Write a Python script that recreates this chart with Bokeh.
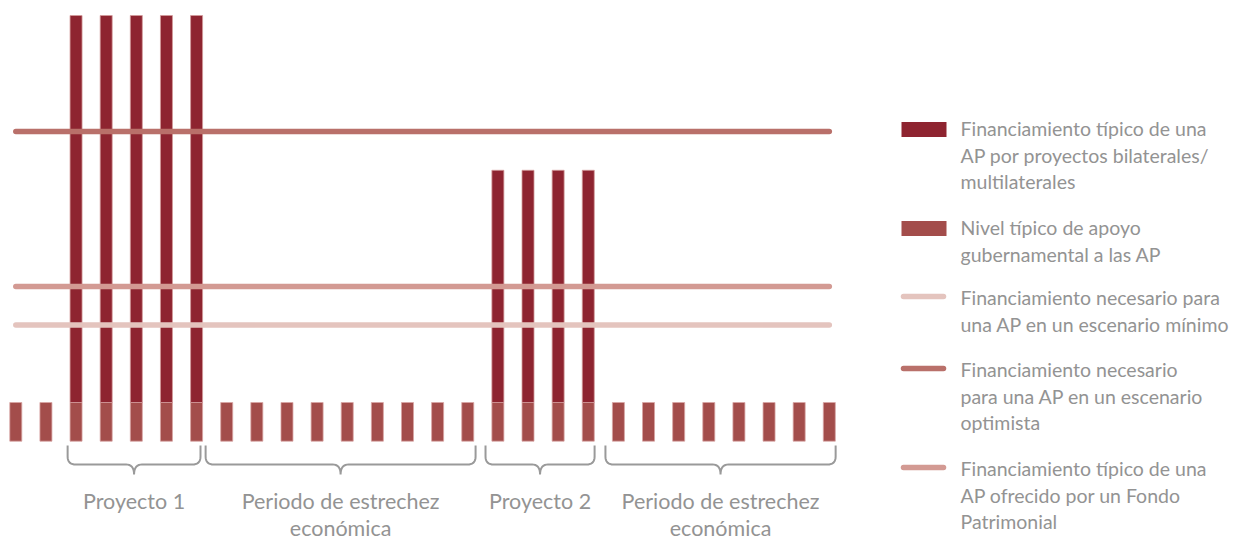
from bokeh.plotting import figure
from bokeh.models import Range1d, ColumnDataSource
from bokeh.core.properties import value
from bokeh.embed import file_html
from bokeh.resources import INLINE
import numpy as np

# ---------------- data ----------------
periods = list(range(28))
gov_support = [1, 1, 1, 1, 1, 1, 1, 1, 1, 1, 1, 1, 1, 1,
               1, 1, 1, 1, 1, 1, 1, 1, 1, 1, 1, 1, 1, 1]
project_funding = [0, 0, 10, 10, 10, 10, 10, 0, 0, 0, 0, 0, 0, 0,
                   0, 0, 6, 6, 6, 6, 0, 0, 0, 0, 0, 0, 0, 0]
escenario_optimista = 8.0
fondo_patrimonial = 4.0
escenario_minimo = 3.0
line_start, line_end = 0, 27

group_labels = ["Proyecto 1", "Periodo de estrechez\neconómica",
                "Proyecto 2", "Periodo de estrechez\neconómica"]
group_start = [1.72, 6.30, 15.59, 19.57]
group_end = [6.13, 15.26, 19.21, 27.21]

legend_labels = [
    "Financiamiento típico de una\nAP por proyectos bilaterales/\nmultilaterales",
    "Nivel típico de apoyo\ngubernamental a las AP",
    "Financiamiento necesario para\nuna AP en un escenario mínimo",
    "Financiamiento necesario\npara una AP en  un escenario\noptimista",
    "Financiamiento típico de una\nAP ofrecido por un Fondo\nPatrimonial",
]

# ---------------- styles ----------------
C_PROJ = "#8E2430"
C_GOV = "#A34D4B"
C_OPT = "#B9706A"
C_FONDO = "#D39A93"
C_MIN = "#E4C4BE"
C_TEXT = "#939393"
C_BRACE = "#9A9A9A"
FONT = "Lato"

W, H = 1240, 540
X0, DX = 15.3, 30.13      # pixel position of period 0, pixel spacing
Y0, DY = 440.7, 38.7      # pixel position of 0, pixels per unit


def px2x(px):
    return (px - X0) / DX


def px2y(py):
    return (Y0 - py) / DY


p = figure(width=W, height=H, output_backend="svg", toolbar_location=None,
           x_range=Range1d(px2x(0), px2x(W)), y_range=Range1d(px2y(H), px2y(0)),
           min_border=0, outline_line_color=None)
p.axis.visible = False
p.grid.visible = False
p.background_fill_color = "white"
p.border_fill_color = "white"

bar_w = 12 / DX

# bottom bars (government support)
src = ColumnDataSource(dict(x=periods, gov=gov_support))
p.vbar(x="x", bottom=0, top="gov", width=bar_w, source=src,
       fill_color=C_GOV, line_color="#D8A5A3", line_width=0.8)

# project funding stacked on top
px_ = [x for x, f in zip(periods, project_funding) if f > 0]
pb = [g for g, f in zip(gov_support, project_funding) if f > 0]
pt = [g + f for g, f in zip(gov_support, project_funding) if f > 0]
p.vbar(x=px_, bottom=pb, top=pt, width=bar_w,
       fill_color=C_PROJ, line_color="#D39A9A", line_width=0.8)

# horizontal reference levels
for lvl, col in [(escenario_optimista, C_OPT), (fondo_patrimonial, C_FONDO),
                 (escenario_minimo, C_MIN)]:
    p.line([line_start, line_end], [lvl, lvl], line_color=col,
           line_width=5.5, line_cap="round")


# braces and group labels
def brace(x0p, x1p, ytop=445.0, yh=464.0, ytip=474.0):
    xm = (x0p + x1p) / 2
    pts = []

    def quad(a, c, b, n=10):
        t = np.linspace(0, 1, n)
        return [((1 - s) ** 2 * a[0] + 2 * (1 - s) * s * c[0] + s ** 2 * b[0],
                 (1 - s) ** 2 * a[1] + 2 * (1 - s) * s * c[1] + s ** 2 * b[1]) for s in t]
    pts += [(x0p, ytop)]
    pts += quad((x0p, yh - 8), (x0p, yh), (x0p + 8, yh))
    pts += [(xm - 8, yh)]
    pts += quad((xm - 8, yh), (xm, yh), (xm, ytip))
    pts += quad((xm, ytip), (xm, yh), (xm + 8, yh))
    pts += [(x1p - 8, yh)]
    pts += quad((x1p - 8, yh), (x1p, yh), (x1p, yh - 8))
    pts += [(x1p, ytop)]
    return [px2x(a) for a, _ in pts], [px2y(b) for _, b in pts]


tx, ty, tt = [], [], []
for lab, s, e in zip(group_labels, group_start, group_end):
    s_px, e_px = X0 + s * DX, X0 + e * DX
    bx, by = brace(s_px, e_px)
    p.line(bx, by, line_color=C_BRACE, line_width=2)
    for k, ln in enumerate(lab.split("\n")):
        tx.append((s + e) / 2)
        ty.append(px2y(500 + 27 * k))
        tt.append(ln)
p.text(x=tx, y=ty, text=tt, text_font=value(FONT), text_font_size="21.5px",
       text_color=C_TEXT, text_align="center", text_baseline="middle")

# legend
leg_y = [128, 227, 297, 369, 468]
leg_kind = ["bar", "bar", "line", "line", "line"]
leg_col = [C_PROJ, C_GOV, C_MIN, C_OPT, C_FONDO]
lx, ly, lt = [], [], []
for y0, kind, col, lab in zip(leg_y, leg_kind, leg_col, legend_labels):
    if kind == "bar":
        p.quad(left=px2x(901), right=px2x(946), top=px2y(y0 - 6.5),
               bottom=px2y(y0 + 8.5), fill_color=col, line_color=None)
    else:
        p.line([px2x(903), px2x(943)], [px2y(y0 - 1), px2y(y0 - 1)],
               line_color=col, line_width=5.5, line_cap="round")
    for k, ln in enumerate(lab.split("\n")):
        lx.append(px2x(960))
        ly.append(px2y(y0 + 26.5 * k))
        lt.append(ln)
p.text(x=lx, y=ly, text=lt, text_font=value(FONT), text_font_size="19.5px",
       text_color=C_TEXT, text_align="left", text_baseline="middle")

open("out.html", "w").write(file_html(p, INLINE))
